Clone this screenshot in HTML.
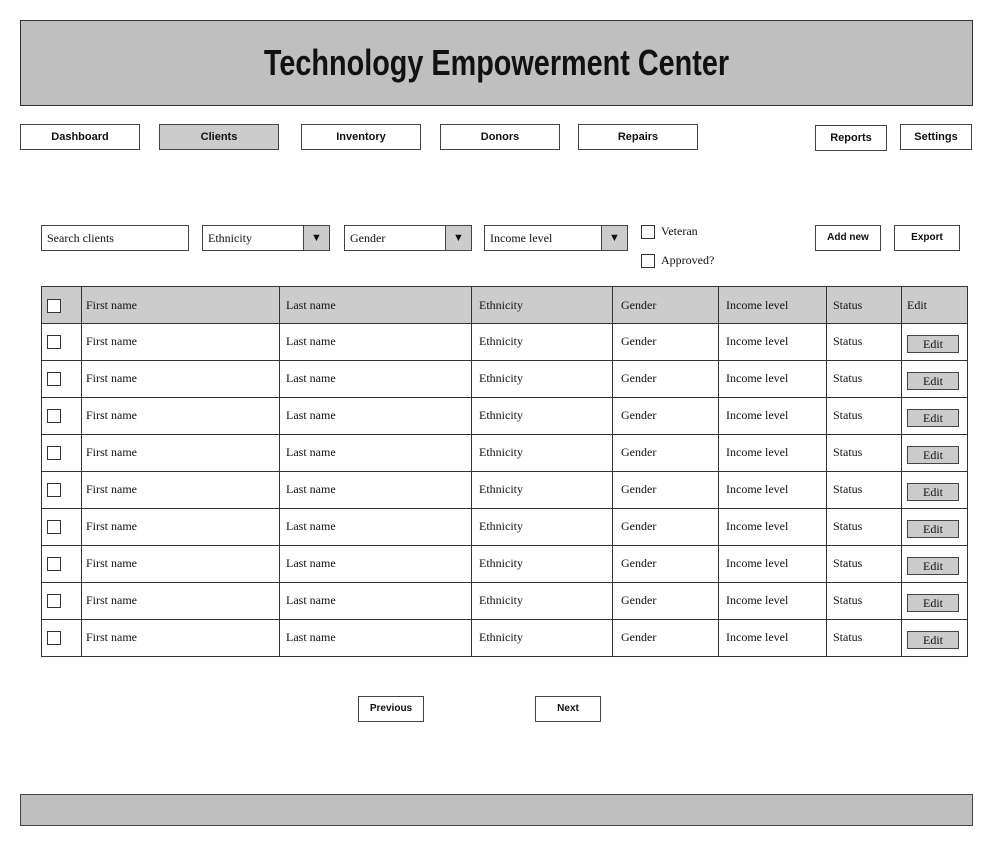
<!DOCTYPE html>
<html><head><meta charset="utf-8"><style>
body{margin:0;width:992px;height:845px;background:#fff;position:relative;font-family:"Liberation Serif",serif;font-size:12px;color:#111;overflow:hidden}
.a{position:absolute;box-sizing:border-box}
.hdr{left:20px;top:20px;width:953px;height:86px;background:#bfbfbf;border:1px solid #333}
.ttl{position:absolute;left:0;right:0;top:22px;text-align:center;font-family:"Liberation Sans",sans-serif;font-weight:bold;font-size:36px;line-height:40px;transform:scaleX(0.8)}
.btn{border:1px solid #444;background:#fff;text-align:center;font-family:"Liberation Sans",sans-serif;font-weight:bold;font-size:11px;line-height:24px;height:26px}
.inp{border:1px solid #444;background:#fff;height:26px;line-height:24px;padding-left:5px}
.arr{border-left:1px solid #444;background:#ccc;position:absolute;right:0;top:0;width:25px;height:24px;text-align:center;font-size:11px;line-height:24px}
.cb{width:14px;height:14px;border:1px solid #333;background:#fff}
table{position:absolute;left:41px;top:286px;border-collapse:collapse;table-layout:fixed}
td{border:1px solid #333;height:37px;padding:10px 0 0 4px;vertical-align:top;line-height:14px;font-size:12px;box-sizing:border-box;overflow:hidden}
tr.h td{background:#ccc;padding-top:11px}
td .c{display:block;width:14px;height:14px;border:1px solid #333;background:#fff;margin:1px 0 0 1px;box-sizing:border-box}
td .e{display:block;width:52px;height:18px;border:1px solid #444;background:#ccc;text-align:center;line-height:17px;margin:1px 0 0 1px;box-sizing:border-box}
</style></head><body>
<div class="a hdr"><div class="ttl">Technology Empowerment Center</div></div>
<div class="a btn" style="left:20px;top:124px;width:120px">Dashboard</div>
<div class="a btn" style="left:159px;top:124px;width:120px;background:#ccc">Clients</div>
<div class="a btn" style="left:301px;top:124px;width:120px">Inventory</div>
<div class="a btn" style="left:440px;top:124px;width:120px">Donors</div>
<div class="a btn" style="left:578px;top:124px;width:120px">Repairs</div>
<div class="a btn" style="left:815px;top:125px;width:72px">Reports</div>
<div class="a btn" style="left:900px;top:124px;width:72px">Settings</div>

<div class="a inp" style="left:41px;top:225px;width:148px">Search clients</div>
<div class="a inp" style="left:202px;top:225px;width:128px">Ethnicity<div class="arr">▼</div></div>
<div class="a inp" style="left:344px;top:225px;width:128px">Gender<div class="arr">▼</div></div>
<div class="a inp" style="left:484px;top:225px;width:144px">Income level<div class="arr">▼</div></div>
<div class="a cb" style="left:641px;top:225px"></div><div class="a" style="left:661px;top:224px">Veteran</div>
<div class="a cb" style="left:641px;top:254px"></div><div class="a" style="left:661px;top:253px">Approved?</div>
<div class="a btn" style="left:815px;top:225px;width:66px;font-size:10px">Add new</div>
<div class="a btn" style="left:894px;top:225px;width:66px;font-size:10px">Export</div>

<table>
<colgroup><col style="width:40px"><col style="width:198px"><col style="width:192px"><col style="width:141px"><col style="width:106px"><col style="width:108px"><col style="width:75px"><col style="width:66px"></colgroup>
<tr class="h"><td><span class="c"></span></td><td>First name</td><td style="padding-left:6px">Last name</td><td style="padding-left:7px">Ethnicity</td><td style="padding-left:8px">Gender</td><td style="padding-left:7px">Income level</td><td style="padding-left:6px">Status</td><td style="padding-left:5px">Edit</td></tr>
<tr><td><span class="c"></span></td><td>First name</td><td style="padding-left:6px">Last name</td><td style="padding-left:7px">Ethnicity</td><td style="padding-left:8px">Gender</td><td style="padding-left:7px">Income level</td><td style="padding-left:6px">Status</td><td><span class="e">Edit</span></td></tr>
<tr><td><span class="c"></span></td><td>First name</td><td style="padding-left:6px">Last name</td><td style="padding-left:7px">Ethnicity</td><td style="padding-left:8px">Gender</td><td style="padding-left:7px">Income level</td><td style="padding-left:6px">Status</td><td><span class="e">Edit</span></td></tr>
<tr><td><span class="c"></span></td><td>First name</td><td style="padding-left:6px">Last name</td><td style="padding-left:7px">Ethnicity</td><td style="padding-left:8px">Gender</td><td style="padding-left:7px">Income level</td><td style="padding-left:6px">Status</td><td><span class="e">Edit</span></td></tr>
<tr><td><span class="c"></span></td><td>First name</td><td style="padding-left:6px">Last name</td><td style="padding-left:7px">Ethnicity</td><td style="padding-left:8px">Gender</td><td style="padding-left:7px">Income level</td><td style="padding-left:6px">Status</td><td><span class="e">Edit</span></td></tr>
<tr><td><span class="c"></span></td><td>First name</td><td style="padding-left:6px">Last name</td><td style="padding-left:7px">Ethnicity</td><td style="padding-left:8px">Gender</td><td style="padding-left:7px">Income level</td><td style="padding-left:6px">Status</td><td><span class="e">Edit</span></td></tr>
<tr><td><span class="c"></span></td><td>First name</td><td style="padding-left:6px">Last name</td><td style="padding-left:7px">Ethnicity</td><td style="padding-left:8px">Gender</td><td style="padding-left:7px">Income level</td><td style="padding-left:6px">Status</td><td><span class="e">Edit</span></td></tr>
<tr><td><span class="c"></span></td><td>First name</td><td style="padding-left:6px">Last name</td><td style="padding-left:7px">Ethnicity</td><td style="padding-left:8px">Gender</td><td style="padding-left:7px">Income level</td><td style="padding-left:6px">Status</td><td><span class="e">Edit</span></td></tr>
<tr><td><span class="c"></span></td><td>First name</td><td style="padding-left:6px">Last name</td><td style="padding-left:7px">Ethnicity</td><td style="padding-left:8px">Gender</td><td style="padding-left:7px">Income level</td><td style="padding-left:6px">Status</td><td><span class="e">Edit</span></td></tr>
<tr><td><span class="c"></span></td><td>First name</td><td style="padding-left:6px">Last name</td><td style="padding-left:7px">Ethnicity</td><td style="padding-left:8px">Gender</td><td style="padding-left:7px">Income level</td><td style="padding-left:6px">Status</td><td><span class="e">Edit</span></td></tr>
</table>

<div class="a btn" style="left:358px;top:696px;width:66px;font-size:10px">Previous</div>
<div class="a btn" style="left:535px;top:696px;width:66px;font-size:10px">Next</div>
<div class="a" style="left:20px;top:794px;width:953px;height:32px;background:#bfbfbf;border:1px solid #444"></div>
</body></html>
